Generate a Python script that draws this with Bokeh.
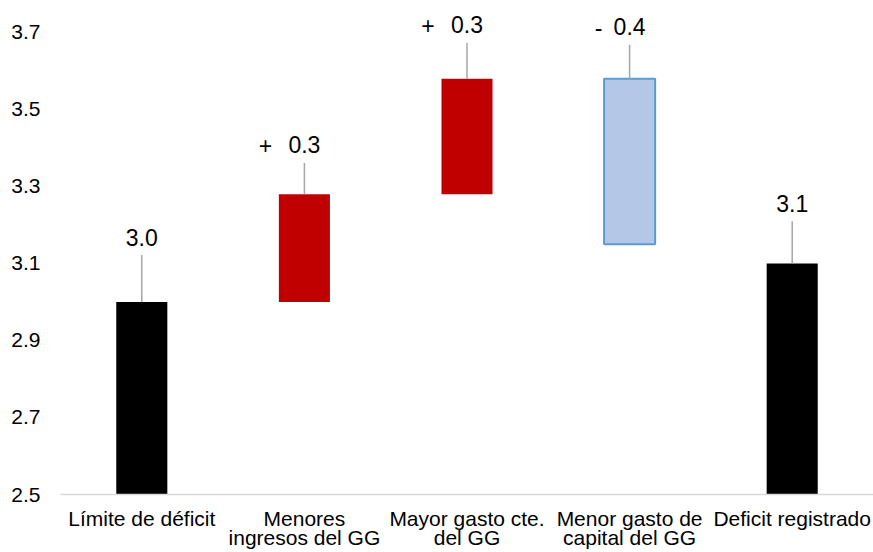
from bokeh.plotting import figure
from bokeh.models import Range1d, FixedTicker, ColumnDataSource
from bokeh.core.properties import value
from bokeh.embed import file_html
from bokeh.resources import INLINE

# ---- data ----
categories = ["Límite de déficit", "Menores\ningresos del GG", "Mayor gasto cte.\ndel GG",
              "Menor gasto de\ncapital del GG", "Deficit registrado"]
bar_bottom = [2.5, 3.0, 3.28, 3.15, 2.5]
bar_top = [3.0, 3.28, 3.58, 3.58, 3.1]
label_value = ["3.0", "0.3", "0.3", "0.4", "3.1"]
label_sign = ["", "+", "+", "-", ""]
y_ticks = [2.5, 2.7, 2.9, 3.1, 3.3, 3.5, 3.7]

# ---- styling ----
fill_colors = ["#000000", "#C00000", "#C00000", "#B4C7E7", "#000000"]
line_colors = ["#000000", "#C00000", "#C00000", "#5B9BD5", "#000000"]
line_widths = [0, 0, 0, 2, 0]
leader_len = [0.122, 0.081, 0.093, 0.088, 0.110]
sign_shift = [0, -39, -39, -31, 0]
FONT = "Liberation Sans"

xs = list(range(len(categories)))
leader_top = [t + l for t, l in zip(bar_top, leader_len)]

src = ColumnDataSource(dict(x=xs, bottom=bar_bottom, top=bar_top, fill=fill_colors,
                            line=line_colors, lw=line_widths, ltop=leader_top,
                            val=label_value, sign=label_sign, sshift=sign_shift))

p = figure(width=873, height=552, output_backend="svg", toolbar_location=None,
           x_range=Range1d(-0.5, 4.5), y_range=Range1d(2.5, 3.783),
           min_border_left=60, min_border_right=0, min_border_top=0, min_border_bottom=58)
p.outline_line_color = None
p.xgrid.grid_line_color = None
p.ygrid.grid_line_color = None
p.background_fill_color = "white"

p.vbar(x="x", bottom="bottom", top="top", width=0.314, fill_color="fill",
       line_color="line", line_width="lw", source=src)
p.segment(x0="x", y0="top", x1="x", y1="ltop", line_color="#A6A6A6", line_width=1.5, source=src)
p.text(x="x", y="ltop", text="val", text_align="center", text_baseline="middle",
       y_offset=-18, text_font_size="23px", text_color="#000000", text_font=value(FONT), source=src)
p.text(x="x", y="ltop", text="sign", text_align="center", text_baseline="middle",
       x_offset="sshift", y_offset=-17, text_font_size="23px", text_color="#000000",
       text_font=value(FONT), source=src)

# axes
p.yaxis.ticker = FixedTicker(ticks=y_ticks)
p.yaxis.major_label_overrides = {t: f"{t:.1f}" for t in y_ticks}
p.yaxis.axis_line_color = None
p.yaxis.major_tick_line_color = None
p.yaxis.minor_tick_line_color = None
p.yaxis.major_label_text_font = FONT
p.yaxis.major_label_text_font_size = "21px"
p.yaxis.major_label_text_color = "#000000"
p.yaxis.major_label_standoff = 14

p.xaxis.ticker = FixedTicker(ticks=xs)
p.xaxis.major_label_overrides = {i: c for i, c in zip(xs, categories)}
p.xaxis.axis_line_color = "#D9D9D9"
p.xaxis.axis_line_width = 1.5
p.xaxis.major_tick_line_color = None
p.xaxis.minor_tick_line_color = None
p.xaxis.major_label_text_font = FONT
p.xaxis.major_label_text_font_size = "21px"
p.xaxis.major_label_text_color = "#000000"
p.xaxis.major_label_text_line_height = 0.85
p.xaxis.major_label_standoff = 6

open("out.html", "w").write(file_html(p, INLINE))
